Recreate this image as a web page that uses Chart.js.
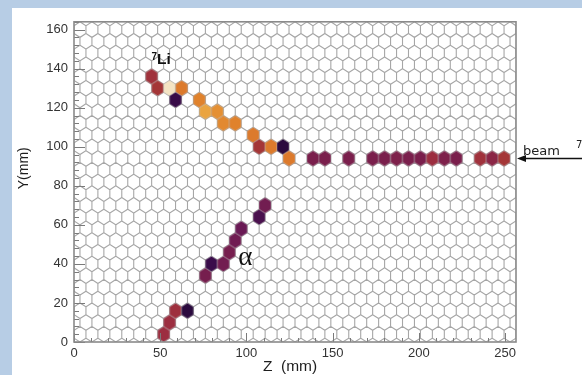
<!DOCTYPE html>
<html><head><meta charset="utf-8">
<script src="https://cdn.jsdelivr.net/npm/chart.js@4"></script>
<style>
html,body{margin:0;padding:0;background:#b7cde5;width:582px;height:375px;overflow:hidden}
#wrap{position:absolute;left:12px;top:8px;width:570px;height:367px;background:#fff}
canvas{display:block}
</style></head><body>
<div id="wrap"><canvas id="c" width="570" height="367"></canvas></div>
<script>
// ---- data: hit pads (Z mm, Y mm, relative signal amplitude 0..1) ----
const liZ   = [45.0, 48.5, 55.4, 62.4, 58.9, 72.7, 76.2, 83.1, 86.6, 93.5, 103.9, 107.4, 114.3, 121.2, 124.7];
const liY   = [136, 130, 130, 130, 124, 124, 118, 118, 112, 112, 106, 100, 100, 100, 94];
const liAmp = [0.48, 0.50, 1.00, 0.70, 0.14, 0.72, 0.82, 0.76, 0.74, 0.72, 0.70, 0.50, 0.70, 0.08, 0.70];

const beamZ   = [138.6, 145.5, 159.3, 173.2, 180.1, 187.1, 194.0, 200.9, 207.8, 214.8, 221.7, 235.6, 242.5, 249.4];
const beamY   = [94, 94, 94, 94, 94, 94, 94, 94, 94, 94, 94, 94, 94, 94];
const beamAmp = [0.38, 0.38, 0.38, 0.38, 0.38, 0.39, 0.38, 0.38, 0.46, 0.39, 0.38, 0.48, 0.42, 0.50];

const alphaZ   = [52.0, 55.4, 58.9, 65.8, 76.2, 79.7, 86.6, 90.1, 93.5, 97.0, 107.4, 110.8];
const alphaY   = [4, 10, 16, 16, 34, 40, 40, 46, 52, 58, 64, 70];
const alphaAmp = [0.46, 0.46, 0.47, 0.08, 0.36, 0.15, 0.34, 0.36, 0.33, 0.30, 0.20, 0.34];

const xTickLabels = [0, 50, 100, 150, 200, 250];
const yTickLabels = [0, 20, 40, 60, 80, 100, 120, 140, 160];

// ---- pad geometry (pointy-top hexagons, side 4 mm) ----
const HEX_R = 4;
const HEX_HW = HEX_R * Math.sqrt(3) / 2;   // half width
const COL_PITCH = 2 * HEX_HW;
const ROW_PITCH = 1.5 * HEX_R;
const N_ROWS = 27;
const X_MAX = COL_PITCH * 37;
const Y_MAX = 164;

// colour palette for amplitude
const palette = [
  [0.00, [26, 8, 48]], [0.15, [58, 12, 74]], [0.30, [106, 26, 85]], [0.38, [122, 31, 76]],
  [0.46, [156, 46, 64]], [0.52, [168, 58, 51]], [0.62, [204, 90, 44]], [0.72, [224, 130, 44]],
  [0.82, [234, 164, 64]], [0.92, [240, 204, 128]], [1.00, [244, 228, 196]]
];
function ampColor(a) {
  for (let i = 1; i < palette.length; i++) {
    if (a <= palette[i][0]) {
      const [a0, c0] = palette[i - 1], [a1, c1] = palette[i];
      const t = (a - a0) / (a1 - a0);
      const c = c0.map((v, k) => Math.round(v + (c1[k] - v) * t));
      return `rgb(${c[0]},${c[1]},${c[2]})`;
    }
  }
  return 'rgb(244,228,196)';
}

const GRID_COLOR = '#a6a6a6';

function hexPath(ctx, cx, cy, hw, r) {
  ctx.moveTo(cx, cy - r);
  ctx.lineTo(cx + hw, cy - r / 2);
  ctx.lineTo(cx + hw, cy + r / 2);
  ctx.lineTo(cx, cy + r);
  ctx.lineTo(cx - hw, cy + r / 2);
  ctx.lineTo(cx - hw, cy - r / 2);
  ctx.closePath();
}

const hexCache = {};
function hexCanvas(chart, color) {
  const xs = chart.scales.x, ys = chart.scales.y;
  const sx = Math.abs(xs.getPixelForValue(1) - xs.getPixelForValue(0));
  const sy = Math.abs(ys.getPixelForValue(1) - ys.getPixelForValue(0));
  const hw = HEX_HW * sx, r = HEX_R * sy;
  const key = color + '|' + hw.toFixed(3) + '|' + r.toFixed(3);
  if (hexCache[key]) return hexCache[key];
  const cv = document.createElement('canvas');
  cv.width = Math.ceil(2 * hw) + 4;
  cv.height = Math.ceil(2 * r) + 4;
  const c = cv.getContext('2d');
  c.beginPath();
  hexPath(c, cv.width / 2, cv.height / 2, hw, r);
  c.fillStyle = color;
  c.fill();
  c.strokeStyle = 'rgba(190,190,190,0.35)';
  c.lineWidth = 1;
  c.stroke();
  hexCache[key] = cv;
  return cv;
}

function mkData(zs, ys, as) { return zs.map((z, i) => ({ x: z, y: ys[i], a: as[i] })); }
function hitDataset(label, zs, ys, as) {
  return {
    label, data: mkData(zs, ys, as),
    pointRadius: 5,
    pointStyle: ctx => (ctx.raw ? hexCanvas(ctx.chart, ampColor(ctx.raw.a)) : 'circle'),
    backgroundColor: '#7a1f4c', borderWidth: 0
  };
}

const padGrid = {
  id: 'padGrid',
  beforeDatasetsDraw(chart) {
    const { ctx, chartArea: a, scales: { x, y } } = chart;
    const sx = x.getPixelForValue(1) - x.getPixelForValue(0);
    const sy = y.getPixelForValue(0) - y.getPixelForValue(1);
    ctx.save();
    ctx.beginPath();
    ctx.rect(a.left, a.top, a.right - a.left, a.bottom - a.top);
    ctx.clip();
    ctx.beginPath();
    for (let k = 0; k < N_ROWS; k++) {
      const yc = HEX_R + ROW_PITCH * k;
      const off = (k % 2 === 0) ? HEX_HW : 0;
      for (let j = -1; j <= 38; j++) {
        const xc = off + COL_PITCH * j;
        hexPath(ctx, x.getPixelForValue(xc), y.getPixelForValue(yc), HEX_HW * sx, HEX_R * sy);
      }
    }
    ctx.strokeStyle = GRID_COLOR;
    ctx.lineWidth = 1.1;
    ctx.stroke();
    ctx.restore();
  },
  afterDatasetsDraw(chart) {
    const { ctx, chartArea: a, scales: { x, y } } = chart;
    ctx.save();
    // ticks (inward)
    ctx.strokeStyle = '#7a7a7a';
    ctx.lineWidth = 1;
    ctx.beginPath();
    for (let v = 0; v <= Y_MAX; v += 4) {
      const py = Math.round(y.getPixelForValue(v)) + 0.5;
      const len = (v % 20 === 0) ? 11 : 5;
      ctx.moveTo(a.left, py); ctx.lineTo(a.left + len, py);
    }
    for (let v = 0; v <= X_MAX; v += 10) {
      const px = Math.round(x.getPixelForValue(v)) + 0.5;
      const len = (v % 50 === 0) ? 9 : 4;
      ctx.moveTo(px, a.bottom); ctx.lineTo(px, a.bottom - len);
    }
    ctx.stroke();
    // frame
    ctx.strokeStyle = '#8a8a8a';
    ctx.lineWidth = 1.6;
    ctx.strokeRect(a.left, a.top, a.right - a.left, a.bottom - a.top);

    // axis titles
    ctx.fillStyle = '#1e1e1e';
    ctx.textAlign = 'center';
    ctx.textBaseline = 'middle';
    ctx.font = '15.5px "Liberation Sans", Arial, sans-serif';
    ctx.fillText('Z  (mm)', (a.left + a.right) / 2 - 5, chart.height - 8);
    ctx.save();
    ctx.font = '14px "Liberation Sans", Arial, sans-serif';
    ctx.translate(12, y.getPixelForValue(89));
    ctx.rotate(-Math.PI / 2);
    ctx.fillText('Y(mm)', 0, 0);
    ctx.restore();

    // track annotations
    ctx.textAlign = 'left';
    ctx.textBaseline = 'alphabetic';
    ctx.fillStyle = '#111';
    ctx.font = 'bold 10px "Liberation Sans", Arial, sans-serif';
    ctx.fillText('7', x.getPixelForValue(45.0), y.getPixelForValue(144.6));
    ctx.font = 'bold 15.5px "Liberation Sans", Arial, sans-serif';
    ctx.fillText('Li', x.getPixelForValue(48.2), y.getPixelForValue(142.2));
    ctx.font = '27px "Liberation Serif", "DejaVu Serif", serif';
    ctx.textAlign = 'center';
    ctx.fillText('\u03b1', x.getPixelForValue(99.4), y.getPixelForValue(39.6));

    // beam arrow + label
    const by = y.getPixelForValue(94);
    ctx.strokeStyle = '#111';
    ctx.fillStyle = '#111';
    ctx.lineWidth = 1.6;
    ctx.beginPath();
    ctx.moveTo(a.right + 8, by); ctx.lineTo(chart.width, by);
    ctx.stroke();
    ctx.beginPath();
    ctx.moveTo(a.right + 1, by);
    ctx.lineTo(a.right + 10, by - 3.5);
    ctx.lineTo(a.right + 10, by + 3.5);
    ctx.closePath();
    ctx.fill();
    ctx.textAlign = 'left';
    ctx.fillStyle = '#222';
    ctx.font = '13px "DejaVu Sans", sans-serif';
    ctx.fillText('beam', a.right + 7, by - 3);
    ctx.font = '10px "DejaVu Sans", sans-serif';
    ctx.fillText('7', a.right + 60, by - 10.5);
    ctx.restore();
  }
};

const tickFont = { family: '"Liberation Sans", Arial, sans-serif', size: 13 };

new Chart(document.getElementById('c'), {
  type: 'scatter',
  data: {
    datasets: [
      hitDataset('7Li', liZ, liY, liAmp),
      hitDataset('beam', beamZ, beamY, beamAmp),
      hitDataset('alpha', alphaZ, alphaY, alphaAmp)
    ]
  },
  options: {
    responsive: false,
    animation: false,
    devicePixelRatio: 1,
    layout: { padding: { left: 0, right: 66, top: 5, bottom: 0 } },
    plugins: { legend: { display: false }, tooltip: { enabled: false } },
    scales: {
      x: {
        type: 'linear', min: 0, max: X_MAX,
        grid: { display: false, drawTicks: false }, border: { display: false },
        afterBuildTicks: s => { s.ticks = xTickLabels.map(v => ({ value: v })); },
        ticks: { color: '#333', font: tickFont, padding: 4, maxRotation: 0, autoSkip: false },
        afterFit: s => { s.height = 33; }
      },
      y: {
        type: 'linear', min: 0, max: Y_MAX,
        grid: { display: false, drawTicks: false }, border: { display: false },
        afterBuildTicks: s => { s.ticks = yTickLabels.map(v => ({ value: v })); },
        ticks: { color: '#333', font: tickFont, padding: 6, autoSkip: false },
        afterFit: s => { s.width = 62; }
      }
    }
  },
  plugins: [padGrid]
});
</script>
</body></html>
